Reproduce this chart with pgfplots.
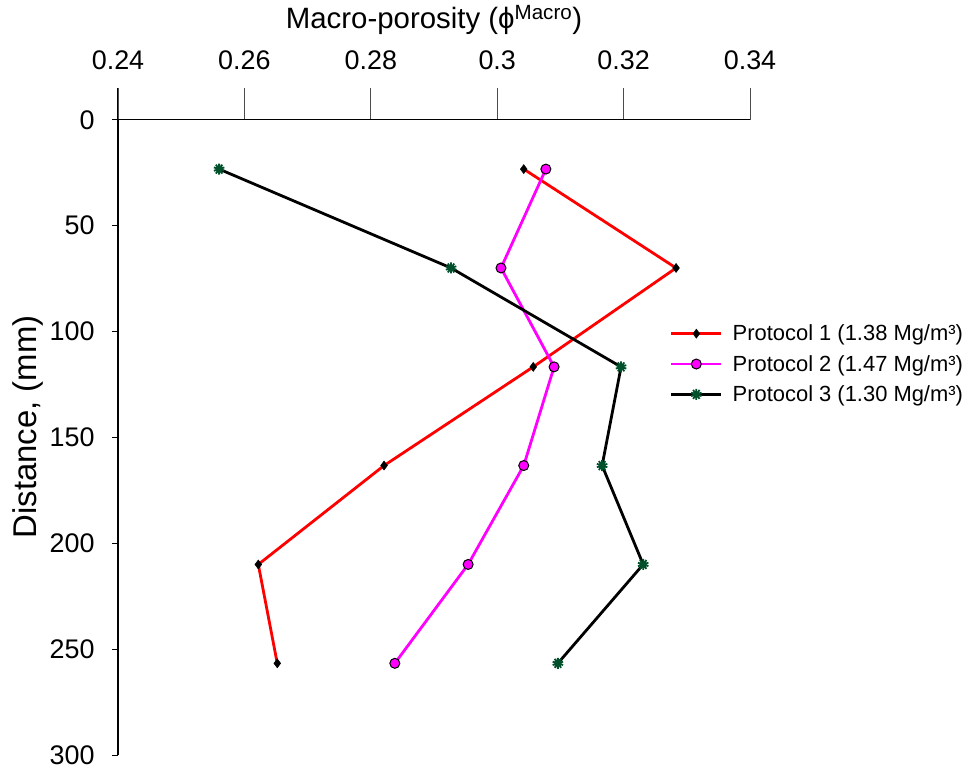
\documentclass[border=0pt]{standalone}
\usepackage{fontspec}
\setmainfont{Liberation Sans}
\usepackage{pgfplots}
\pgfplotsset{compat=1.18}
\usetikzlibrary{plotmarks}
\definecolor{stargreen}{RGB}{0,100,55}
\definecolor{pmag}{RGB}{255,0,255}
\definecolor{pred}{RGB}{255,0,0}
\begin{document}
\begin{tikzpicture}
\path[use as bounding box] (-118bp,-15bp) rectangle (853bp,755bp);
\begin{axis}[
  at={(0,0)}, anchor=south west,
  scale only axis, width=632bp, height=667bp,
  xmin=0.24, xmax=0.34, ymin=-15, ymax=300,
  y dir=reverse,
  axis x line*=top, axis y line*=left,
  x axis line style={draw=none},
  y axis line style={-, line width=1.6bp},
  xtick={0.24,0.26,0.28,0.30,0.32,0.34},
  ytick={0,50,100,150,200,250,300},
  xtick style={draw=none},
  ytick style={line width=1bp, black},
  tick align=outside, major tick length=6bp,
  /pgf/number format/assume math mode=true,
  tick label style={font=\fontsize{27}{32}\selectfont},
  xticklabel style={yshift=9bp},
  yticklabel style={xshift=-14bp},
  xlabel={Macro-porosity (ϕ\textsuperscript{Macro})},
  xlabel style={font=\fontsize{29.5}{34}\selectfont, at={(axis description cs:0.5,1.102)}, anchor=center},
  ylabel={Distance, (mm)},
  ylabel style={font=\fontsize{33}{38}\selectfont, at={(axis description cs:-0.142,0.492)}, anchor=center},
  legend cell align=left,
  legend style={draw=none, fill=none, at={(axis description cs:0.873,0.648)}, anchor=north west,
    font=\fontsize{22}{26}\selectfont, row sep=9bp, inner sep=0pt,
    nodes={inner xsep=10bp}},
  legend image code/.code={\draw[#1, mark repeat=2, mark phase=2] plot coordinates {(0bp,0bp) (25bp,0bp) (50bp,0bp)};},
  clip=false,
]
\pgfplotsinvokeforeach{0.24,0.26,0.28,0.30,0.32,0.34}{
  \draw[line width=0.8bp, black!70] (axis cs:#1,-15) -- (axis cs:#1,0);
}
\draw[line width=1.3bp] (axis cs:0.24,0) -- (axis cs:0.34,0);
\addplot[pred, line width=2.8bp, mark=diamond*, mark size=4.5bp, mark options={fill=black, draw=black, line width=0.5bp}]
  coordinates {(0.3042,23.3) (0.3283,70) (0.3057,116.7) (0.2821,163.3) (0.2622,210) (0.2652,256.7)};
\addlegendentry{Protocol 1 (1.38 Mg/m³)}
\addplot[pmag, line width=2.8bp, mark=*, mark size=5bp, mark options={fill=pmag, draw=black, line width=1bp}]
  coordinates {(0.3077,23.3) (0.3006,70) (0.3090,116.7) (0.3042,163.3) (0.2954,210) (0.2838,256.7)};
\addlegendentry{Protocol 2 (1.47 Mg/m³)}
\addplot[black, line width=2.8bp, mark=10-pointed star, mark size=5.5bp, mark options={draw=stargreen!80!black, fill=stargreen, line width=1.8bp}]
  coordinates {(0.2560,23.3) (0.2927,70) (0.3196,116.7) (0.3166,163.3) (0.3231,210) (0.3096,256.7)};
\addlegendentry{Protocol 3 (1.30 Mg/m³)}
\end{axis}
\end{tikzpicture}
\end{document}
